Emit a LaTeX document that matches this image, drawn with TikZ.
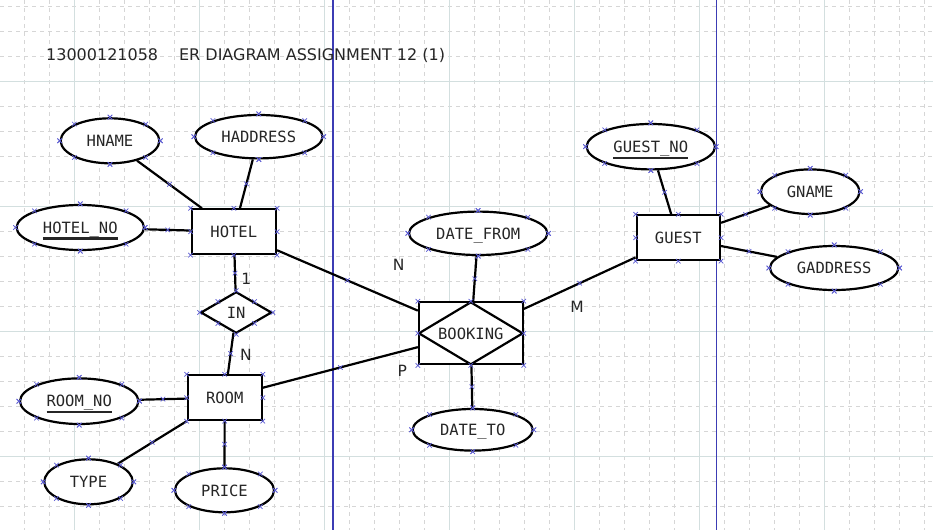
\documentclass[tikz,border=0pt]{standalone}
\usepackage{fontspec}
\setmainfont{DejaVu Sans}
\newfontfamily\erfont{DejaVu Sans Mono}
\usetikzlibrary{shapes.geometric,shapes.misc,calc}
\definecolor{gridmin}{HTML}{D6D6D6}
\definecolor{gridmaj}{HTML}{D3DFDF}
\definecolor{pageblue}{HTML}{3C3CB4}
\definecolor{cpblue}{HTML}{5A5AD2}
\newcommand{\keyattr}[1]{\setbox0\hbox{#1}\rlap{\rule[-6.5pt]{\wd0}{2.4pt}}\box0}
\tikzset{
  ertext/.style={font=\erfont\fontsize{15.5}{18}\selectfont, text=black!85, text depth=0pt},
  entity/.style={draw, fill=white, rectangle, line width=2.2pt, ertext, inner sep=0pt},
  attr/.style={draw, fill=white, ellipse, line width=2.2pt, ertext, inner sep=0pt},
  rel/.style={draw, fill=white, diamond, line width=2.2pt, ertext, inner sep=0pt},
  assoc/.style={entity, path picture={\draw[line width=2.2pt] (path picture bounding box.north) -- (path picture bounding box.east) -- (path picture bounding box.south) -- (path picture bounding box.west) -- cycle;}},
  conn/.style={line width=2.2pt},
  card/.style={font=\fontsize{15.5}{18}\selectfont, text=black!85, inner sep=0pt},
  xmk/.style={cross out, draw=cpblue, line width=0.7pt, minimum size=4.5pt, inner sep=0pt, outer sep=0pt}
}
\newcommand{\boxmarks}[1]{\foreach \a in {north west,north,north east,east,south east,south,south west,west}{\node[xmk] at (#1.\a) {};}}
\newcommand{\diamarks}[1]{\foreach \a/\b in {north/east,east/south,south/west,west/north}{\node[xmk] at (#1.\a) {}; \node[xmk] at ($(#1.\a)!0.5!(#1.\b)$) {};}}
\newcommand{\ovalmarks}[1]{\foreach \h/\v in {east/north,east/south,west/north,west/south}{\node[xmk] at (#1.\h) {}; \node[xmk] at (#1.\v) {}; \node[xmk] at ($0.7071*(#1.\h)+0.7071*(#1.\v)-0.4142*(#1.center)$) {};}}

\begin{document}
\begin{tikzpicture}[x=1pt,y=-1pt]
\useasboundingbox (0,0) rectangle (933,530);
\fill[white] (0,0) rectangle (933,530);
\foreach \i in {0,...,36} \draw[gridmin, line width=0.8pt, dash pattern=on 4pt off 4pt] (24.3+25*\i,0) -- ++(0,530);
\foreach \j in {0,...,20} \draw[gridmin, line width=0.8pt, dash pattern=on 4pt off 4pt] (0,6+25*\j) -- ++(933,0);
\foreach \i in {0,...,6} \draw[gridmaj, line width=1pt] (74.3+125*\i,0) -- ++(0,530);
\foreach \j in {0,...,3} \draw[gridmaj, line width=1pt] (0,81+125*\j) -- ++(933,0);
\draw[pageblue, line width=1.2pt] (333,0) -- (333,530);
\draw[pageblue, line width=1.2pt] (716.7,0) -- (716.7,530);

\node[card, font=\fontsize{16}{19}\selectfont, anchor=base west] (title) at (46,60.7) {13000121058\hspace{21pt}ER DIAGRAM ASSIGNMENT 12 (1)};

\node[entity, minimum width=84.3pt, minimum height=44.7pt] (hotel) at (233.8,231.7) {HOTEL};
\node[entity, minimum width=74pt, minimum height=44.7pt] (room) at (224.7,397.7) {ROOM};
\node[entity, minimum width=83.3pt, minimum height=44.7pt] (guest) at (678.3,237.7) {GUEST};
\node[assoc, minimum width=103.7pt, minimum height=62pt] (booking) at (470.8,333.3) {BOOKING};
\node[rel, minimum width=71pt, minimum height=41.6pt] (in) at (236.2,312.5) {IN};

\node[attr, minimum width=98.6pt, minimum height=45pt] (hname) at (110,140.8) {HNAME};
\node[attr, minimum width=127.6pt, minimum height=43.4pt] (haddress) at (258.8,136.7) {HADDRESS};
\node[attr, minimum width=127.4pt, minimum height=45pt] (hotelno) at (80.3,227.5) {\keyattr{HOTEL\_NO}};
\node[attr, minimum width=118.4pt, minimum height=45.6pt] (roomno) at (79.2,401.2) {\keyattr{ROOM\_NO}};
\node[attr, minimum width=88.4pt, minimum height=45pt] (type) at (88.5,481.8) {TYPE};
\node[attr, minimum width=99pt, minimum height=44pt] (price) at (224.5,490.3) {PRICE};
\node[attr, minimum width=138.4pt, minimum height=43.4pt] (datefrom) at (478.2,233.3) {DATE\_FROM};
\node[attr, minimum width=120pt, minimum height=41.6pt] (dateto) at (472.7,429.8) {DATE\_TO};
\node[attr, minimum width=128.4pt, minimum height=45.4pt] (guestno) at (650.8,146.7) {\keyattr{GUEST\_NO}};
\node[attr, minimum width=98.4pt, minimum height=44.6pt] (gname) at (810.2,191.7) {GNAME};
\node[attr, minimum width=128.4pt, minimum height=44pt] (gaddress) at (834.2,268) {GADDRESS};

\draw[conn] (hname) -- node[xmk]{} (hotel);
\draw[conn] (haddress) -- node[xmk]{} (hotel);
\draw[conn] (hotelno) -- node[xmk]{} (hotel);
\draw[conn] (hotel) -- node[xmk]{} (in);
\draw[conn] (in) -- node[xmk]{} (room);
\draw[conn] (roomno) -- node[xmk]{} (room);
\draw[conn] (room) -- node[xmk]{} (type);
\draw[conn] (room) -- node[xmk]{} (price);
\draw[conn] (hotel) -- node[xmk]{} (booking);
\draw[conn] (room) -- node[xmk]{} (booking);
\draw[conn] (guest) -- node[xmk]{} (booking);
\draw[conn] (datefrom) -- node[xmk]{} (booking);
\draw[conn] (booking) -- node[xmk]{} (dateto);
\draw[conn] (guestno) -- node[xmk]{} (guest);
\draw[conn] (guest) -- node[xmk]{} (gname);
\draw[conn] (guest) -- node[xmk]{} (gaddress);

\foreach \n in {hotel,room,guest,booking} {\boxmarks{\n}}
\diamarks{in}
\foreach \n in {hname,haddress,hotelno,roomno,type,price,datefrom,dateto,guestno,gname,gaddress} {\ovalmarks{\n}}

\node[card] (c1) at (246.3,278.7) {1};
\node[card] (cn) at (245.8,355) {N};
\node[card] (bn) at (398.7,265.3) {N};
\node[card] (bm) at (577,307.2) {M};
\node[card] (bp) at (402.3,370.5) {P};
\end{tikzpicture}
\end{document}
